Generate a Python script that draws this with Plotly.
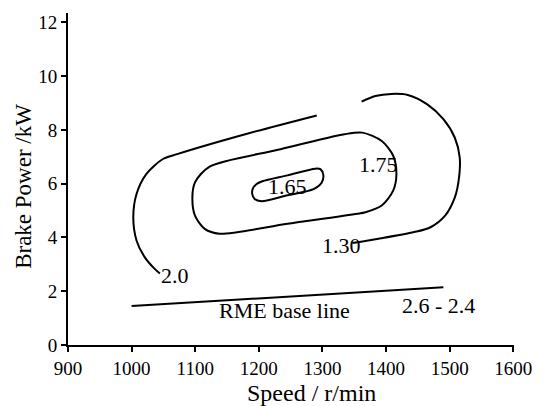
import plotly.graph_objects as go

# Iso-consumption contours (speed r/min, brake power kW)
c20_speed = [1291, 1180, 1071.5, 1048.6, 1023, 1007.7, 1002.6, 1007.7, 1020.5, 1035.9, 1044.4]
c20_power = [8.54, 7.85, 7.10, 6.91, 6.36, 5.62, 4.75, 3.89, 3.27, 2.84, 2.66]

c130_speed = [1361.5, 1383, 1408.5, 1434, 1464.7, 1490, 1508, 1515.7, 1514.6, 1508, 1492.7, 1469.8, 1444, 1388, 1347]
c130_power = [9.05, 9.26, 9.34, 9.30, 8.95, 8.40, 7.71, 6.97, 6.23, 5.49, 4.81, 4.38, 4.20, 3.95, 3.79]

c175_speed = [1230, 1334.5, 1362.6, 1393.2, 1411.1, 1416.2, 1411.1, 1393.2, 1367.6, 1354.9, 1245, 1138, 1114.9, 1099.6, 1095.5, 1099.6, 1122, 1230]
c175_power = [7.26, 7.84, 7.90, 7.59, 7.04, 6.36, 5.74, 5.19, 4.94, 4.88, 4.51, 4.14, 4.32, 4.81, 5.49, 6.05, 6.63, 7.26]

c165_speed = [1245, 1288.6, 1296.7, 1301.3, 1298.7, 1286, 1245, 1204.3, 1193.3, 1189.5, 1190.5, 1196, 1205.5, 1245]
c165_power = [6.31, 6.56, 6.54, 6.33, 6.04, 5.80, 5.57, 5.35, 5.43, 5.62, 5.82, 5.98, 6.09, 6.31]

base_speed = [1000, 1490]
base_power = [1.45, 2.15]

# Contour labels: (text, speed, power)
labels = [
    ("2.0", 1068, 2.59),
    ("1.30", 1330, 3.70),
    ("1.75", 1388, 6.73),
    ("1.65", 1245, 5.89),
    ("RME base line", 1240, 1.28),
    ("2.6 - 2.4", 1483, 1.48),
]

FONT = "Liberation Serif, Times New Roman, serif"
line_style = dict(color="black", width=2, shape="spline", smoothing=0.8)

fig = go.Figure()
for xs, ys in [(c20_speed, c20_power), (c130_speed, c130_power),
               (c175_speed, c175_power), (c165_speed, c165_power)]:
    fig.add_trace(go.Scatter(x=xs, y=ys, mode="lines", line=line_style,
                             hoverinfo="skip", showlegend=False))
fig.add_trace(go.Scatter(x=base_speed, y=base_power, mode="lines",
                         line=dict(color="black", width=2), showlegend=False))

for text, sx, sy in labels:
    fig.add_annotation(x=sx, y=sy, text=text, showarrow=False,
                       xanchor="center", yanchor="middle",
                       font=dict(family=FONT, size=22, color="black"))

# Axis titles
fig.add_annotation(xref="paper", yref="paper", x=0.547, y=-0.144,
                   xanchor="center", yanchor="middle",
                   text="Speed / r/min", showarrow=False,
                   font=dict(family=FONT, size=24, color="black"))
fig.add_annotation(xref="paper", yref="paper", x=-0.10, y=0.4775,
                   xanchor="center", yanchor="middle",
                   text="Brake Power /kW", showarrow=False, textangle=-90,
                   font=dict(family=FONT, size=23, color="black"))

axis_common = dict(showline=True, linecolor="black", linewidth=2,
                   ticks="outside", ticklen=5, tickwidth=2, tickcolor="black",
                   showgrid=False, zeroline=False,
                   tickfont=dict(family=FONT, size=19, color="black"))

fig.update_layout(
    width=544, height=406,
    margin=dict(l=68, r=19, t=12, b=61),
    paper_bgcolor="white", plot_bgcolor="white",
    xaxis=dict(range=[900, 1601], dtick=100, tick0=900, **axis_common),
    yaxis=dict(range=[0, 12.35], dtick=2, tick0=0, **axis_common),
)

fig.write_html("out.html")
